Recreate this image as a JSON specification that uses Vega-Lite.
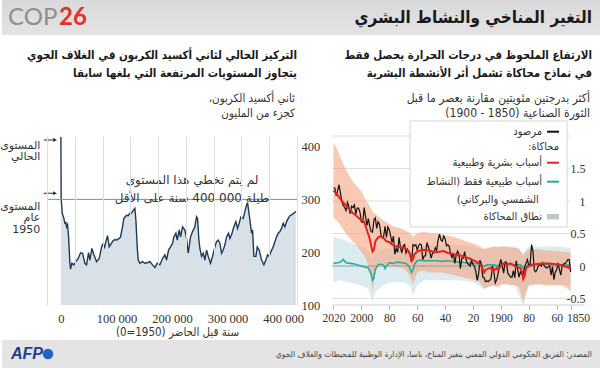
{
  "$schema": "https://vega.github.io/schema/vega-lite/v6.json",
  "padding": 0,
  "spacing": 35,
  "bounds": "flush",
  "background": "white",
  "config": {"view": {"stroke": null}, "text": {"font": "DejaVu Sans", "color": "#333333"}},
  "datasets": {
    "co2": [
      {"yr":0,"ppm":418},{"yr":500,"ppm":302},{"yr":2400,"ppm":274},{"yr":5400,"ppm":264},{"yr":7200,"ppm":255},{"yr":9000,"ppm":256},{"yr":10200,"ppm":248},{"yr":12000,"ppm":252},{"yr":13800,"ppm":229},{"yr":16200,"ppm":179},{"yr":17400,"ppm":168},{"yr":19800,"ppm":179},{"yr":23400,"ppm":176},{"yr":27000,"ppm":182},{"yr":31200,"ppm":188},{"yr":35400,"ppm":199},{"yr":39000,"ppm":198},{"yr":43200,"ppm":179},{"yr":46200,"ppm":176},{"yr":49800,"ppm":199},{"yr":52200,"ppm":185},{"yr":55800,"ppm":207},{"yr":59400,"ppm":195},{"yr":64200,"ppm":182},{"yr":69000,"ppm":188},{"yr":73200,"ppm":210},{"yr":76200,"ppm":217},{"yr":78000,"ppm":207},{"yr":81000,"ppm":220},{"yr":84000,"ppm":231},{"yr":87000,"ppm":210},{"yr":91200,"ppm":217},{"yr":94200,"ppm":222},{"yr":97800,"ppm":224},{"yr":100200,"ppm":223},{"yr":105000,"ppm":226},{"yr":107400,"ppm":229},{"yr":110400,"ppm":245},{"yr":113400,"ppm":264},{"yr":118200,"ppm":270},{"yr":121200,"ppm":269},{"yr":124200,"ppm":274},{"yr":127200,"ppm":274},{"yr":130200,"ppm":279},{"yr":133200,"ppm":283},{"yr":135000,"ppm":261},{"yr":137400,"ppm":210},{"yr":139200,"ppm":185},{"yr":142200,"ppm":179},{"yr":147000,"ppm":182},{"yr":151200,"ppm":179},{"yr":155400,"ppm":180},{"yr":160200,"ppm":182},{"yr":165000,"ppm":176},{"yr":169200,"ppm":171},{"yr":173400,"ppm":179},{"yr":178200,"ppm":176},{"yr":183000,"ppm":188},{"yr":187200,"ppm":195},{"yr":190200,"ppm":185},{"yr":193800,"ppm":204},{"yr":197400,"ppm":210},{"yr":201000,"ppm":217},{"yr":203400,"ppm":229},{"yr":207000,"ppm":236},{"yr":209400,"ppm":223},{"yr":213000,"ppm":242},{"yr":215400,"ppm":229},{"yr":219000,"ppm":248},{"yr":223200,"ppm":242},{"yr":226200,"ppm":226},{"yr":229200,"ppm":198},{"yr":233400,"ppm":229},{"yr":237000,"ppm":239},{"yr":241200,"ppm":248},{"yr":244200,"ppm":267},{"yr":246000,"ppm":264},{"yr":248400,"ppm":223},{"yr":250200,"ppm":207},{"yr":253200,"ppm":192},{"yr":256200,"ppm":198},{"yr":259200,"ppm":185},{"yr":262200,"ppm":204},{"yr":265200,"ppm":192},{"yr":269400,"ppm":179},{"yr":273000,"ppm":192},{"yr":277200,"ppm":210},{"yr":280200,"ppm":220},{"yr":283200,"ppm":223},{"yr":286200,"ppm":217},{"yr":289200,"ppm":198},{"yr":292200,"ppm":204},{"yr":295200,"ppm":214},{"yr":298200,"ppm":229},{"yr":301800,"ppm":236},{"yr":304200,"ppm":226},{"yr":307200,"ppm":233},{"yr":311400,"ppm":248},{"yr":315000,"ppm":258},{"yr":318000,"ppm":245},{"yr":321000,"ppm":255},{"yr":324000,"ppm":267},{"yr":328200,"ppm":264},{"yr":331200,"ppm":277},{"yr":334200,"ppm":289},{"yr":336000,"ppm":294},{"yr":337800,"ppm":280},{"yr":340200,"ppm":261},{"yr":343200,"ppm":236},{"yr":345000,"ppm":242},{"yr":347400,"ppm":192},{"yr":351000,"ppm":192},{"yr":353400,"ppm":210},{"yr":357000,"ppm":204},{"yr":361200,"ppm":185},{"yr":365400,"ppm":176},{"yr":369000,"ppm":185},{"yr":372000,"ppm":195},{"yr":375000,"ppm":192},{"yr":378000,"ppm":201},{"yr":382200,"ppm":210},{"yr":385200,"ppm":220},{"yr":388200,"ppm":229},{"yr":391200,"ppm":236},{"yr":394200,"ppm":239},{"yr":397200,"ppm":245},{"yr":400200,"ppm":255},{"yr":403200,"ppm":248},{"yr":406200,"ppm":258},{"yr":409200,"ppm":264},{"yr":412200,"ppm":269},{"yr":415800,"ppm":271},{"yr":419400,"ppm":274},{"yr":423000,"ppm":277}
    ],
    "obs": [
      {"year":1850,"t":-0.09},{"year":1851,"t":0.10},{"year":1852,"t":0.10},{"year":1853,"t":0.06},{"year":1854,"t":0.04},{"year":1855,"t":0.03},{"year":1856,"t":0.01},{"year":1857,"t":-0.14},{"year":1858,"t":-0.06},{"year":1859,"t":0.05},{"year":1860,"t":-0.06},{"year":1861,"t":-0.10},{"year":1862,"t":-0.21},{"year":1863,"t":-0.01},{"year":1864,"t":-0.14},{"year":1865,"t":0.00},{"year":1866,"t":-0.01},{"year":1867,"t":-0.03},{"year":1868,"t":-0.02},{"year":1869,"t":0.01},{"year":1870,"t":0.05},{"year":1871,"t":0.00},{"year":1872,"t":0.02},{"year":1873,"t":0.01},{"year":1874,"t":-0.05},{"year":1875,"t":-0.09},{"year":1876,"t":-0.07},{"year":1877,"t":0.23},{"year":1878,"t":0.33},{"year":1879,"t":0.03},{"year":1880,"t":0.01},{"year":1881,"t":0.10},{"year":1882,"t":0.04},{"year":1883,"t":-0.02},{"year":1884,"t":-0.13},{"year":1885,"t":-0.13},{"year":1886,"t":-0.09},{"year":1887,"t":-0.17},{"year":1888,"t":-0.05},{"year":1889,"t":0.08},{"year":1890,"t":-0.18},{"year":1891,"t":-0.07},{"year":1892,"t":-0.17},{"year":1893,"t":-0.17},{"year":1894,"t":-0.14},{"year":1895,"t":-0.11},{"year":1896,"t":0.06},{"year":1897,"t":0.06},{"year":1898,"t":-0.11},{"year":1899,"t":0.00},{"year":1900,"t":0.10},{"year":1901,"t":0.02},{"year":1902,"t":-0.12},{"year":1903,"t":-0.21},{"year":1904,"t":-0.26},{"year":1905,"t":-0.09},{"year":1906,"t":0.00},{"year":1907,"t":-0.19},{"year":1908,"t":-0.22},{"year":1909,"t":-0.24},{"year":1910,"t":-0.23},{"year":1911,"t":-0.24},{"year":1912,"t":-0.18},{"year":1913,"t":-0.17},{"year":1914,"t":0.03},{"year":1915,"t":0.09},{"year":1916,"t":-0.13},{"year":1917,"t":-0.22},{"year":1918,"t":-0.08},{"year":1919,"t":0.00},{"year":1920,"t":0.02},{"year":1921,"t":0.09},{"year":1922,"t":0.00},{"year":1923,"t":0.02},{"year":1924,"t":0.04},{"year":1925,"t":0.10},{"year":1926,"t":0.22},{"year":1927,"t":0.12},{"year":1928,"t":0.12},{"year":1929,"t":-0.04},{"year":1930,"t":0.18},{"year":1931,"t":0.23},{"year":1932,"t":0.17},{"year":1933,"t":0.04},{"year":1934,"t":0.20},{"year":1935,"t":0.13},{"year":1936,"t":0.18},{"year":1937,"t":0.30},{"year":1938,"t":0.33},{"year":1939,"t":0.31},{"year":1940,"t":0.42},{"year":1941,"t":0.46},{"year":1942,"t":0.38},{"year":1943,"t":0.40},{"year":1944,"t":0.49},{"year":1945,"t":0.40},{"year":1946,"t":0.24},{"year":1947,"t":0.28},{"year":1948,"t":0.20},{"year":1949,"t":0.20},{"year":1950,"t":0.12},{"year":1951,"t":0.22},{"year":1952,"t":0.30},{"year":1953,"t":0.36},{"year":1954,"t":0.16},{"year":1955,"t":0.15},{"year":1956,"t":0.10},{"year":1957,"t":0.33},{"year":1958,"t":0.34},{"year":1959,"t":0.31},{"year":1960,"t":0.25},{"year":1961,"t":0.33},{"year":1962,"t":0.31},{"year":1963,"t":0.33},{"year":1964,"t":0.06},{"year":1965,"t":0.16},{"year":1966,"t":0.22},{"year":1967,"t":0.26},{"year":1968,"t":0.20},{"year":1969,"t":0.33},{"year":1970,"t":0.31},{"year":1971,"t":0.20},{"year":1972,"t":0.29},{"year":1973,"t":0.44},{"year":1974,"t":0.21},{"year":1975,"t":0.27},{"year":1976,"t":0.18},{"year":1977,"t":0.46},{"year":1978,"t":0.36},{"year":1979,"t":0.46},{"year":1980,"t":0.56},{"year":1981,"t":0.60},{"year":1982,"t":0.44},{"year":1983,"t":0.61},{"year":1984,"t":0.46},{"year":1985,"t":0.43},{"year":1986,"t":0.49},{"year":1987,"t":0.64},{"year":1988,"t":0.68},{"year":1989,"t":0.58},{"year":1990,"t":0.74},{"year":1991,"t":0.71},{"year":1992,"t":0.52},{"year":1993,"t":0.53},{"year":1994,"t":0.61},{"year":1995,"t":0.73},{"year":1996,"t":0.62},{"year":1997,"t":0.76},{"year":1998,"t":0.90},{"year":1999,"t":0.67},{"year":2000,"t":0.68},{"year":2001,"t":0.83},{"year":2002,"t":0.89},{"year":2003,"t":0.89},{"year":2004,"t":0.80},{"year":2005,"t":0.94},{"year":2006,"t":0.90},{"year":2007,"t":0.92},{"year":2008,"t":0.80},{"year":2009,"t":0.92},{"year":2010,"t":0.98},{"year":2011,"t":0.85},{"year":2012,"t":0.90},{"year":2013,"t":0.93},{"year":2014,"t":0.99},{"year":2015,"t":1.12},{"year":2016,"t":1.25},{"year":2017,"t":1.16},{"year":2018,"t":1.08},{"year":2019,"t":1.20},{"year":2020,"t":1.20}
    ],
    "red": [
      {"year":2020,"t":1.16},{"year":2018,"t":1.12},{"year":2016,"t":1.06},{"year":2014,"t":1.00},{"year":2012,"t":0.95},{"year":2010,"t":0.90},{"year":2008,"t":0.86},{"year":2006,"t":0.81},{"year":2004,"t":0.78},{"year":2002,"t":0.74},{"year":2000,"t":0.71},{"year":1998,"t":0.68},{"year":1996,"t":0.55},{"year":1994,"t":0.42},{"year":1993,"t":0.32},{"year":1992,"t":0.22},{"year":1991,"t":0.25},{"year":1990,"t":0.38},{"year":1988,"t":0.44},{"year":1986,"t":0.46},{"year":1984,"t":0.43},{"year":1982,"t":0.38},{"year":1980,"t":0.37},{"year":1978,"t":0.33},{"year":1976,"t":0.31},{"year":1974,"t":0.30},{"year":1972,"t":0.29},{"year":1970,"t":0.28},{"year":1968,"t":0.26},{"year":1966,"t":0.22},{"year":1965,"t":0.17},{"year":1964,"t":0.08},{"year":1963,"t":0.10},{"year":1962,"t":0.18},{"year":1960,"t":0.22},{"year":1958,"t":0.24},{"year":1955,"t":0.25},{"year":1952,"t":0.24},{"year":1950,"t":0.23},{"year":1947,"t":0.21},{"year":1944,"t":0.22},{"year":1941,"t":0.23},{"year":1938,"t":0.20},{"year":1935,"t":0.19},{"year":1932,"t":0.17},{"year":1929,"t":0.16},{"year":1926,"t":0.14},{"year":1923,"t":0.12},{"year":1920,"t":0.09},{"year":1918,"t":0.07},{"year":1916,"t":0.05},{"year":1914,"t":0.00},{"year":1913,"t":-0.05},{"year":1912,"t":-0.10},{"year":1911,"t":-0.06},{"year":1909,"t":-0.04},{"year":1907,"t":-0.03},{"year":1905,"t":-0.07},{"year":1903,"t":-0.03},{"year":1902,"t":-0.06},{"year":1900,"t":0.00},{"year":1898,"t":0.04},{"year":1896,"t":0.02},{"year":1893,"t":0.04},{"year":1890,"t":0.00},{"year":1888,"t":-0.02},{"year":1886,"t":-0.03},{"year":1885,"t":-0.08},{"year":1884,"t":-0.20},{"year":1883,"t":-0.16},{"year":1882,"t":-0.04},{"year":1880,"t":0.00},{"year":1877,"t":0.02},{"year":1874,"t":0.03},{"year":1870,"t":0.04},{"year":1866,"t":0.04},{"year":1862,"t":0.03},{"year":1858,"t":0.02},{"year":1855,"t":0.00},{"year":1852,"t":-0.02},{"year":1850,"t":-0.04}
    ],
    "teal": [
      {"year":2020,"t":0.04},{"year":2017,"t":0.05},{"year":2015,"t":0.06},{"year":2013,"t":0.10},{"year":2011,"t":0.05},{"year":2008,"t":0.04},{"year":2005,"t":0.03},{"year":2002,"t":0.01},{"year":2000,"t":0.00},{"year":1997,"t":-0.02},{"year":1995,"t":-0.03},{"year":1993,"t":-0.12},{"year":1992,"t":-0.22},{"year":1991,"t":-0.18},{"year":1990,"t":-0.05},{"year":1988,"t":0.02},{"year":1986,"t":0.03},{"year":1984,"t":0.01},{"year":1983,"t":-0.04},{"year":1982,"t":0.00},{"year":1980,"t":0.05},{"year":1977,"t":0.04},{"year":1974,"t":0.06},{"year":1971,"t":0.05},{"year":1968,"t":0.04},{"year":1966,"t":0.00},{"year":1964,"t":-0.10},{"year":1963,"t":-0.06},{"year":1962,"t":0.02},{"year":1960,"t":0.08},{"year":1957,"t":0.09},{"year":1954,"t":0.08},{"year":1950,"t":0.08},{"year":1946,"t":0.08},{"year":1942,"t":0.07},{"year":1938,"t":0.08},{"year":1934,"t":0.07},{"year":1930,"t":0.06},{"year":1925,"t":0.05},{"year":1920,"t":0.04},{"year":1915,"t":0.03},{"year":1912,"t":-0.01},{"year":1910,"t":0.02},{"year":1905,"t":0.02},{"year":1902,"t":0.00},{"year":1900,"t":0.03},{"year":1895,"t":0.03},{"year":1890,"t":0.02},{"year":1886,"t":0.02},{"year":1884,"t":-0.03},{"year":1883,"t":-0.06},{"year":1882,"t":0.00},{"year":1880,"t":0.02},{"year":1875,"t":0.03},{"year":1870,"t":0.03},{"year":1865,"t":0.02},{"year":1860,"t":0.02},{"year":1855,"t":0.02},{"year":1850,"t":0.01}
    ],
    "hband": [
      {"year":2020,"lo":0.75,"hi":1.90},{"year":2017,"lo":0.68,"hi":1.78},{"year":2014,"lo":0.60,"hi":1.62},{"year":2011,"lo":0.50,"hi":1.48},{"year":2008,"lo":0.42,"hi":1.36},{"year":2005,"lo":0.35,"hi":1.27},{"year":2002,"lo":0.28,"hi":1.20},{"year":2000,"lo":0.22,"hi":1.15},{"year":1997,"lo":0.12,"hi":1.02},{"year":1994,"lo":-0.05,"hi":0.92},{"year":1992,"lo":-0.38,"hi":0.84},{"year":1990,"lo":-0.10,"hi":0.80},{"year":1987,"lo":0.05,"hi":0.75},{"year":1984,"lo":0.00,"hi":0.70},{"year":1981,"lo":0.02,"hi":0.66},{"year":1978,"lo":0.00,"hi":0.62},{"year":1975,"lo":-0.02,"hi":0.60},{"year":1972,"lo":-0.02,"hi":0.58},{"year":1969,"lo":-0.05,"hi":0.55},{"year":1966,"lo":-0.12,"hi":0.52},{"year":1963,"lo":-0.28,"hi":0.45},{"year":1960,"lo":-0.10,"hi":0.50},{"year":1957,"lo":-0.07,"hi":0.52},{"year":1954,"lo":-0.08,"hi":0.52},{"year":1950,"lo":-0.10,"hi":0.50},{"year":1946,"lo":-0.10,"hi":0.50},{"year":1942,"lo":-0.10,"hi":0.49},{"year":1938,"lo":-0.12,"hi":0.47},{"year":1934,"lo":-0.14,"hi":0.45},{"year":1930,"lo":-0.16,"hi":0.42},{"year":1926,"lo":-0.18,"hi":0.39},{"year":1922,"lo":-0.20,"hi":0.36},{"year":1918,"lo":-0.22,"hi":0.33},{"year":1915,"lo":-0.25,"hi":0.30},{"year":1912,"lo":-0.35,"hi":0.26},{"year":1909,"lo":-0.32,"hi":0.28},{"year":1905,"lo":-0.30,"hi":0.30},{"year":1902,"lo":-0.33,"hi":0.29},{"year":1899,"lo":-0.28,"hi":0.30},{"year":1896,"lo":-0.28,"hi":0.30},{"year":1893,"lo":-0.30,"hi":0.28},{"year":1890,"lo":-0.30,"hi":0.28},{"year":1887,"lo":-0.32,"hi":0.27},{"year":1884,"lo":-0.55,"hi":0.16},{"year":1882,"lo":-0.40,"hi":0.22},{"year":1880,"lo":-0.30,"hi":0.26},{"year":1876,"lo":-0.28,"hi":0.26},{"year":1872,"lo":-0.28,"hi":0.25},{"year":1868,"lo":-0.30,"hi":0.24},{"year":1864,"lo":-0.30,"hi":0.24},{"year":1860,"lo":-0.30,"hi":0.23},{"year":1856,"lo":-0.30,"hi":0.22},{"year":1852,"lo":-0.35,"hi":0.21},{"year":1850,"lo":-0.40,"hi":0.20}
    ],
    "nband": [
      {"year":2020,"lo":-0.25,"hi":0.45},{"year":2015,"lo":-0.22,"hi":0.42},{"year":2010,"lo":-0.25,"hi":0.38},{"year":2005,"lo":-0.27,"hi":0.33},{"year":2000,"lo":-0.30,"hi":0.30},{"year":1995,"lo":-0.35,"hi":0.25},{"year":1992,"lo":-0.55,"hi":0.10},{"year":1990,"lo":-0.40,"hi":0.20},{"year":1985,"lo":-0.30,"hi":0.25},{"year":1980,"lo":-0.25,"hi":0.28},{"year":1975,"lo":-0.25,"hi":0.28},{"year":1970,"lo":-0.25,"hi":0.28},{"year":1965,"lo":-0.30,"hi":0.25},{"year":1963,"lo":-0.45,"hi":0.15},{"year":1960,"lo":-0.30,"hi":0.28},{"year":1955,"lo":-0.22,"hi":0.32},{"year":1950,"lo":-0.22,"hi":0.32},{"year":1940,"lo":-0.22,"hi":0.32},{"year":1930,"lo":-0.22,"hi":0.32},{"year":1920,"lo":-0.25,"hi":0.30},{"year":1912,"lo":-0.35,"hi":0.25},{"year":1905,"lo":-0.30,"hi":0.30},{"year":1900,"lo":-0.28,"hi":0.30},{"year":1890,"lo":-0.28,"hi":0.30},{"year":1884,"lo":-0.62,"hi":0.20},{"year":1880,"lo":-0.30,"hi":0.30},{"year":1870,"lo":-0.28,"hi":0.30},{"year":1860,"lo":-0.28,"hi":0.30},{"year":1850,"lo":-0.30,"hi":0.28}
    ]
  },
  "vconcat": [
    {
      "width": 600,
      "height": 101,
      "view": {"stroke": null, "fill": {"gradient": "linear", "x1": 0, "y1": 0, "x2": 0, "y2": 1, "stops": [{"offset": 0, "color": "#d9d9d9"}, {"offset": 0.345, "color": "#e3e3e3"}, {"offset": 0.3466, "color": "#ffffff"}, {"offset": 1, "color": "#ffffff"}]}},
      "data": {"values": [{}]},
      "layer": [
        {"mark": {"type": "text", "text": "COP", "align": "left", "baseline": "middle", "font": "Lato", "fontSize": 24, "color": "#8e8e8e"},
         "encoding": {"x": {"datum": 6, "type": "quantitative", "scale": {"domain": [0, 600]}, "axis": null}, "y": {"datum": 18, "type": "quantitative", "scale": {"domain": [0, 101], "reverse": true}, "axis": null}}},
        {"mark": {"type": "text", "text": "26", "align": "left", "baseline": "middle", "font": "Lato", "fontSize": 24, "fontWeight": "bold", "color": "#e2312b"},
         "encoding": {"x": {"datum": 57, "type": "quantitative", "scale": {"domain": [0, 600]}, "axis": null}, "y": {"datum": 18, "type": "quantitative", "scale": {"domain": [0, 101], "reverse": true}, "axis": null}}},
        {"mark": {"type": "text", "text": "التغير المناخي والنشاط البشري", "align": "right", "baseline": "middle", "font": "DejaVu Sans Condensed, DejaVu Sans", "fontSize": 17, "fontWeight": "bold", "color": "#1a1a1a"},
         "encoding": {"x": {"datum": 590, "type": "quantitative", "scale": {"domain": [0, 600]}, "axis": null}, "y": {"datum": 18, "type": "quantitative", "scale": {"domain": [0, 101], "reverse": true}, "axis": null}}},
        {"mark": {"type": "text", "text": ["التركيز الحالي لثاني أكسيد الكربون في الغلاف الجوي", "يتجاوز المستويات المرتفعة التي بلغها سابقا"], "align": "right", "baseline": "middle", "font": "DejaVu Sans Condensed, DejaVu Sans", "fontSize": 11.5, "fontWeight": "bold", "lineHeight": 18, "color": "#1a1a1a"},
         "encoding": {"x": {"datum": 295, "type": "quantitative", "scale": {"domain": [0, 600]}, "axis": null}, "y": {"datum": 56, "type": "quantitative", "scale": {"domain": [0, 101], "reverse": true}, "axis": null}}},
        {"mark": {"type": "text", "text": ["ثاني أكسيد الكربون،\u200f", "كجزء من المليون"], "align": "right", "baseline": "middle", "font": "DejaVu Sans Condensed, DejaVu Sans", "fontSize": 11.5, "lineHeight": 15, "color": "#333333"},
         "encoding": {"x": {"datum": 293, "type": "quantitative", "scale": {"domain": [0, 600]}, "axis": null}, "y": {"datum": 99, "type": "quantitative", "scale": {"domain": [0, 101], "reverse": true}, "axis": null}}},
        {"mark": {"type": "text", "text": ["الارتفاع الملحوظ في درجات الحرارة يحصل فقط", "في نماذج محاكاة تشمل أثر الأنشطة البشرية"], "align": "right", "baseline": "middle", "font": "DejaVu Sans Condensed, DejaVu Sans", "fontSize": 11.5, "fontWeight": "bold", "lineHeight": 18, "color": "#1a1a1a"},
         "encoding": {"x": {"datum": 590, "type": "quantitative", "scale": {"domain": [0, 600]}, "axis": null}, "y": {"datum": 56, "type": "quantitative", "scale": {"domain": [0, 101], "reverse": true}, "axis": null}}},
        {"mark": {"type": "text", "text": ["أكثر بدرجتين مئويتين مقارنة بعصر ما قبل", "الثورة الصناعية (1850 - 1900)\u200f"], "align": "right", "baseline": "middle", "font": "DejaVu Sans Condensed, DejaVu Sans", "fontSize": 12, "lineHeight": 15, "color": "#333333"},
         "encoding": {"x": {"datum": 588, "type": "quantitative", "scale": {"domain": [0, 600]}, "axis": null}, "y": {"datum": 97.5, "type": "quantitative", "scale": {"domain": [0, 101], "reverse": true}, "axis": null}}}
      ]
    },
    {
      "width": 600,
      "height": 169,
      "resolve": {"scale": {"x": "independent", "y": "independent"}, "axis": {"x": "independent", "y": "independent"}},
      "layer": [
        {
          "layer": [
            {
              "data": {"name": "co2"},
              "mark": {"type": "area", "color": "#c9d4de", "line": {"color": "#1f3a56", "strokeWidth": 1.4}},
              "encoding": {
                "x": {"field": "yr", "type": "quantitative", "scale": {"domain": [-106000, 974000], "nice": false, "zero": false},
                  "axis": {"orient": "bottom", "zindex": 1, "values": [-25000, 0, 25000, 75000, 100000, 125000, 175000, 200000, 225000, 275000, 300000, 325000, 375000, 400000, 425000],
                    "grid": true, "gridColor": "#dedede", "gridWidth": 1, "gridOpacity": {"condition": {"test": "datum.value % 100000 === 0", "value": 0}, "value": 1},
                    "ticks": false, "tickSize": 0, "domain": false, "labelFlush": false, "labelOverlap": false,
                    "labelExpr": "datum.value % 100000 === 0 ? replace(format(datum.value, ','), ',', ' ') : ''",
                    "labelFont": "Liberation Serif", "labelFontSize": 12.5, "labelColor": "#333333", "labelPadding": 7,
                    "title": "سنة قبل الحاضر (1950=0)\u200f", "titleFont": "DejaVu Sans Condensed, DejaVu Sans", "titleFontSize": 11.5, "titleFontWeight": "normal", "titleColor": "#333333",
                    "titleX": 175, "titleY": 27, "titleAlign": "center", "titleBaseline": "middle", "titleAnchor": "start"}},
                "y": {"field": "ppm", "type": "quantitative", "scale": {"domain": [100, 420], "nice": false, "zero": false},
                  "axis": {"orient": "right", "offset": -301, "values": [100, 200, 300, 400], "labelExpr": "'' + datum.value", "ticks": false, "tickSize": 0, "domain": false, "grid": false,
                    "labelAlign": "left", "labelPadding": 0, "labelBaseline": "middle", "labelFont": "Liberation Serif", "labelFontSize": 12.5, "labelColor": "#333333", "title": null}},
                "y2": {"datum": 100}
              }
            },
            {
              "data": {"values": [{}]},
              "mark": {"type": "rule", "color": "#8a8a8a", "strokeWidth": 1},
              "encoding": {"x": {"datum": -25000, "type": "quantitative"}, "x2": {"datum": 425000}, "y": {"datum": 300, "type": "quantitative"}}
            },
            {
              "data": {"values": [{}]},
              "mark": {"type": "text", "text": ["لم يتم تخطي هذا المستوى", "طيلة 000 400 سنة على الأقل"], "align": "center", "baseline": "middle", "fontSize": 12, "lineHeight": 17.5, "color": "#333333"},
              "encoding": {"x": {"datum": 236000, "type": "quantitative"}, "y": {"datum": 335.8, "type": "quantitative"}}
            },
            {
              "data": {"values": [{}]},
              "mark": {"type": "text", "text": ["المستوى", "الحالي"], "align": "right", "baseline": "middle", "fontSize": 11, "lineHeight": 11.5, "color": "#333333"},
              "encoding": {"x": {"datum": -37000, "type": "quantitative"}, "y": {"datum": 402, "type": "quantitative"}}
            },
            {
              "data": {"values": [{}]},
              "mark": {"type": "text", "text": ["المستوى", "عام", "1950"], "align": "right", "baseline": "middle", "fontSize": 11, "lineHeight": 11.5, "color": "#333333"},
              "encoding": {"x": {"datum": -37000, "type": "quantitative"}, "y": {"datum": 286.5, "type": "quantitative"}}
            },
            {
              "data": {"values": [{}]},
              "mark": {"type": "rule", "color": "#333333", "strokeWidth": 1},
              "encoding": {"x": {"datum": -31000, "type": "quantitative"}, "x2": {"datum": -12000}, "y": {"datum": 412.5, "type": "quantitative"}}
            },
            {
              "data": {"values": [{}]},
              "mark": {"type": "rule", "color": "#333333", "strokeWidth": 1},
              "encoding": {"x": {"datum": -31000, "type": "quantitative"}, "x2": {"datum": -12000}, "y": {"datum": 311.6, "type": "quantitative"}}
            },
            {
              "data": {"values": [{}]},
              "mark": {"type": "point", "shape": "triangle-right", "filled": true, "size": 18, "color": "#333333", "opacity": 1},
              "encoding": {"x": {"datum": -10500, "type": "quantitative"}, "y": {"datum": 412.5, "type": "quantitative"}}
            },
            {
              "data": {"values": [{}]},
              "mark": {"type": "point", "shape": "triangle-right", "filled": true, "size": 18, "color": "#333333", "opacity": 1},
              "encoding": {"x": {"datum": -10500, "type": "quantitative"}, "y": {"datum": 311.6, "type": "quantitative"}}
            }
          ]
        },
        {
          "layer": [
            {
              "data": {"name": "nband"},
              "mark": {"type": "area", "color": "#dcebf0", "opacity": 1},
              "encoding": {
                "x": {"field": "year", "type": "quantitative", "scale": {"domain": [1827.5, 2257.6], "reverse": true, "nice": false, "zero": false},
                  "axis": {"orient": "bottom", "values": [2020, 2000, 1980, 1960, 1940, 1920, 1900, 1880, 1860, 1850],
                    "labelExpr": "(datum.value === 2020 || datum.value === 2000 || datum.value === 1900 || datum.value === 1850) ? '' + datum.value : substring('' + datum.value, 2)",
                    "grid": false, "domain": false, "ticks": true, "tickSize": 4, "tickColor": "#b5b5b5", "labelPadding": 3, "labelFlush": false, "labelOverlap": false,
                    "labelAlign": {"condition": {"test": "datum.value === 1850", "value": "left"}, "value": "center"},
                    "labelOffset": {"condition": {"test": "datum.value === 1850", "value": -4}, "value": 0},
                    "labelFont": "Liberation Serif", "labelFontSize": 11.5, "labelColor": "#333333", "title": null}},
                "y": {"field": "lo", "type": "quantitative", "scale": {"domain": [-0.6, 2.0], "nice": false, "zero": false},
                  "axis": {"orient": "right", "offset": -17, "values": [-0.5, 0, 0.5, 1, 1.5], "labelExpr": "'' + datum.value", "ticks": false, "tickSize": 0, "domain": false, "grid": false,
                    "labelAlign": "right", "labelPadding": 0, "labelBaseline": "middle", "labelFont": "Liberation Serif", "labelFontSize": 12, "labelColor": "#333333", "title": null}},
                "y2": {"field": "hi"}
              }
            },
            {
              "data": {"values": [{}]},
              "mark": {"type": "rule", "color": "#e0e0e0", "strokeWidth": 1},
              "encoding": {"x": {"datum": 2021, "type": "quantitative"}, "x2": {"datum": 1850.5}, "y": {"datum": 2, "type": "quantitative"}}
            },
            {
              "data": {"values": [{}]},
              "mark": {"type": "rule", "color": "#e0e0e0", "strokeWidth": 1},
              "encoding": {"x": {"datum": 2021, "type": "quantitative"}, "x2": {"datum": 1850.5}, "y": {"datum": 1.5, "type": "quantitative"}}
            },
            {
              "data": {"values": [{}]},
              "mark": {"type": "rule", "color": "#e0e0e0", "strokeWidth": 1},
              "encoding": {"x": {"datum": 2021, "type": "quantitative"}, "x2": {"datum": 1850.5}, "y": {"datum": 1, "type": "quantitative"}}
            },
            {
              "data": {"values": [{}]},
              "mark": {"type": "rule", "color": "#e0e0e0", "strokeWidth": 1},
              "encoding": {"x": {"datum": 2021, "type": "quantitative"}, "x2": {"datum": 1850.5}, "y": {"datum": 0.5, "type": "quantitative"}}
            },
            {
              "data": {"values": [{}]},
              "mark": {"type": "rule", "color": "#e0e0e0", "strokeWidth": 1},
              "encoding": {"x": {"datum": 2021, "type": "quantitative"}, "x2": {"datum": 1850.5}, "y": {"datum": -0.5, "type": "quantitative"}}
            },
            {
              "data": {"name": "hband"},
              "mark": {"type": "area", "color": "#f5a27c", "opacity": 0.58},
              "encoding": {"x": {"field": "year", "type": "quantitative"}, "y": {"field": "lo", "type": "quantitative"}, "y2": {"field": "hi"}}
            },
            {
              "data": {"values": [{}]},
              "mark": {"type": "rule", "color": "#9a9a9a", "strokeWidth": 1},
              "encoding": {"x": {"datum": 2021, "type": "quantitative"}, "x2": {"datum": 1850.5}, "y": {"datum": 0, "type": "quantitative"}}
            },
            {
              "data": {"values": [{}]},
              "mark": {"type": "rule", "color": "#cfcfcf", "strokeWidth": 1},
              "encoding": {"x": {"datum": 2021, "type": "quantitative"}, "x2": {"datum": 1840}, "y": {"datum": -0.6, "type": "quantitative"}}
            },
            {
              "data": {"name": "teal"},
              "mark": {"type": "line", "color": "#2aab9c", "strokeWidth": 1.6},
              "encoding": {"x": {"field": "year", "type": "quantitative"}, "y": {"field": "t", "type": "quantitative"}}
            },
            {
              "data": {"name": "obs"},
              "mark": {"type": "line", "color": "#111111", "strokeWidth": 1.2},
              "encoding": {"x": {"field": "year", "type": "quantitative"}, "y": {"field": "t", "type": "quantitative"}}
            },
            {
              "data": {"name": "red"},
              "mark": {"type": "line", "color": "#e8221b", "strokeWidth": 2},
              "encoding": {"x": {"field": "year", "type": "quantitative"}, "y": {"field": "t", "type": "quantitative"}}
            },
            {
              "data": {"values": [{}]},
              "mark": {"type": "rect", "fill": "#ffffff", "stroke": "#cccccc", "strokeWidth": 0.8},
              "encoding": {"x": {"datum": 1965.1, "type": "quantitative"}, "x2": {"datum": 1852.5}, "y": {"datum": 2.231, "type": "quantitative"}, "y2": {"datum": 0.6}}
            },
            {
              "data": {"values": [{}]},
              "mark": {"type": "rule", "color": "#111111", "strokeWidth": 2},
              "encoding": {"x": {"datum": 1866.9, "type": "quantitative"}, "x2": {"datum": 1858.3}, "y": {"datum": 2.066, "type": "quantitative"}}
            },
            {
              "data": {"values": [{}]},
              "mark": {"type": "rule", "color": "#e8221b", "strokeWidth": 2},
              "encoding": {"x": {"datum": 1866.9, "type": "quantitative"}, "x2": {"datum": 1858.3}, "y": {"datum": 1.589, "type": "quantitative"}}
            },
            {
              "data": {"values": [{}]},
              "mark": {"type": "rule", "color": "#2aab9c", "strokeWidth": 2},
              "encoding": {"x": {"datum": 1866.9, "type": "quantitative"}, "x2": {"datum": 1858.3}, "y": {"datum": 1.297, "type": "quantitative"}}
            },
            {
              "data": {"values": [{}]},
              "mark": {"type": "rect", "fill": "#b9c8cd"},
              "encoding": {"x": {"datum": 1866.9, "type": "quantitative"}, "x2": {"datum": 1858.3}, "y": {"datum": 0.8, "type": "quantitative"}, "y2": {"datum": 0.716}}
            },
            {
              "data": {"values": [{}]},
              "mark": {"type": "text", "text": "مرصود", "align": "right", "baseline": "middle", "font": "DejaVu Sans Condensed, DejaVu Sans", "fontSize": 11, "color": "#333333"},
              "encoding": {"x": {"datum": 1870.5, "type": "quantitative"}, "y": {"datum": 2.066, "type": "quantitative"}}
            },
            {
              "data": {"values": [{}]},
              "mark": {"type": "text", "text": "محاكاة:\u200f", "align": "right", "baseline": "middle", "font": "DejaVu Sans Condensed, DejaVu Sans", "fontSize": 11, "color": "#333333"},
              "encoding": {"x": {"datum": 1858.3, "type": "quantitative"}, "y": {"datum": 1.831, "type": "quantitative"}}
            },
            {
              "data": {"values": [{}]},
              "mark": {"type": "text", "text": "أسباب بشرية وطبيعية", "align": "right", "baseline": "middle", "font": "DejaVu Sans Condensed, DejaVu Sans", "fontSize": 11, "color": "#333333"},
              "encoding": {"x": {"datum": 1870.5, "type": "quantitative"}, "y": {"datum": 1.589, "type": "quantitative"}}
            },
            {
              "data": {"values": [{}]},
              "mark": {"type": "text", "text": "أسباب طبيعية فقط (النشاط", "align": "right", "baseline": "middle", "font": "DejaVu Sans Condensed, DejaVu Sans", "fontSize": 11, "color": "#333333"},
              "encoding": {"x": {"datum": 1870.5, "type": "quantitative"}, "y": {"datum": 1.297, "type": "quantitative"}}
            },
            {
              "data": {"values": [{}]},
              "mark": {"type": "text", "text": "الشمسي والبركاني)\u200f", "align": "right", "baseline": "middle", "font": "DejaVu Sans Condensed, DejaVu Sans", "fontSize": 11, "color": "#333333"},
              "encoding": {"x": {"datum": 1872.8, "type": "quantitative"}, "y": {"datum": 1.015, "type": "quantitative"}}
            },
            {
              "data": {"values": [{}]},
              "mark": {"type": "text", "text": "نطاق المحاكاة", "align": "right", "baseline": "middle", "font": "DejaVu Sans Condensed, DejaVu Sans", "fontSize": 11, "color": "#333333"},
              "encoding": {"x": {"datum": 1870.5, "type": "quantitative"}, "y": {"datum": 0.758, "type": "quantitative"}}
            }
          ]
        }
      ]
    },
    {
      "width": 600,
      "height": 28,
      "view": {"stroke": null, "fill": "#e4e4e4"},
      "data": {"values": [{}]},
      "layer": [
        {"mark": {"type": "text", "text": "AFP", "align": "left", "baseline": "middle", "font": "Liberation Sans", "fontSize": 16, "fontWeight": "bold", "fontStyle": "italic", "color": "#1b3f8f"},
         "encoding": {"x": {"datum": 9, "type": "quantitative", "scale": {"domain": [0, 600]}, "axis": null}, "y": {"datum": 14, "type": "quantitative", "scale": {"domain": [0, 28], "reverse": true}, "axis": null}}},
        {"mark": {"type": "point", "shape": "circle", "filled": true, "size": 110, "color": "#2462c2", "opacity": 1},
         "encoding": {"x": {"datum": 46, "type": "quantitative", "scale": {"domain": [0, 600]}, "axis": null}, "y": {"datum": 14, "type": "quantitative", "scale": {"domain": [0, 28], "reverse": true}, "axis": null}}},
        {"mark": {"type": "text", "text": "المصدر: الفريق الحكومي الدولي المعني بتغير المناخ، ناسا، الإدارة الوطنية للمحيطات والغلاف الجوي", "align": "right", "baseline": "middle", "font": "DejaVu Sans Condensed, DejaVu Sans", "fontSize": 8.5, "color": "#444444"},
         "encoding": {"x": {"datum": 590, "type": "quantitative", "scale": {"domain": [0, 600]}, "axis": null}, "y": {"datum": 14, "type": "quantitative", "scale": {"domain": [0, 28], "reverse": true}, "axis": null}}}
      ]
    }
  ]
}
